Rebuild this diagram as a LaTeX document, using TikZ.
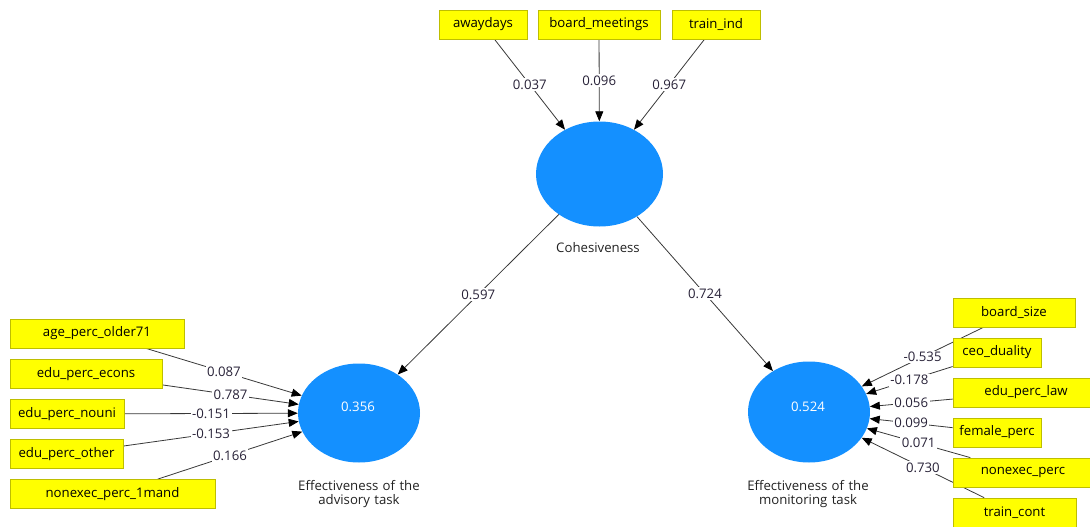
\documentclass[tikz,border=0pt]{standalone}
\usepackage{fontspec}
\setmainfont{Open Sans}
\usetikzlibrary{shapes.geometric,arrows.meta}
\pgfdeclarelayer{edges}
\pgfsetlayers{edges,main}

\definecolor{latent}{RGB}{20,144,255}
\definecolor{boxyellow}{RGB}{255,255,0}
\definecolor{boxline}{RGB}{190,190,0}
\definecolor{edgecol}{RGB}{56,56,56}
\definecolor{labelcol}{RGB}{40,34,56}
\definecolor{namecol}{RGB}{34,34,34}

\begin{document}
\begin{tikzpicture}[x=1pt,y=-1pt,
  basefont/.style={font=\fontsize{13.2}{15}\selectfont},
  ind/.style={basefont, draw=boxline, fill=boxyellow, text=black,
    minimum height=29pt, inner sep=0pt, line width=0.8pt},
  lat/.style={ellipse, fill=latent, draw=none, inner sep=0pt},
  latval/.style={basefont, text=white},
  latname/.style={basefont, text=namecol, align=center},
  path/.style={draw=edgecol, line width=0.8pt,
    -{Triangle[length=10pt,width=8pt,black]}},
  lbl/.style={basefont, fill=white, text=labelcol, inner sep=1.5pt}]

\useasboundingbox (0,0) rectangle (1090,527);
\clip (0,0) rectangle (1090,527);

% latent constructs
\node[lat, minimum width=127pt, minimum height=105pt] (coh) at (599.5,174) {};
\node[lat, minimum width=122pt, minimum height=99pt] (adv) at (359,413) {};
\node[lat, minimum width=122pt, minimum height=101pt] (mon) at (809,412) {};

\node[latval] (advval) at (358,407) {0.356};
\node[latval] (monval) at (808,407) {0.524};

\node[latname] (cohname) at (598,248) {Cohesiveness};
\node[latname, text width=160pt] (advname) at (359,494) {Effectiveness of the\\[-1pt]advisory task};
\node[latname, text width=160pt] (monname) at (808,494) {Effectiveness of the\\[-1pt]monitoring task};

% indicators of cohesiveness
\node[ind, minimum width=88pt]  (away)  at (483,24.5)  {awaydays};
\node[ind, minimum width=122pt] (meet)  at (599,24.5)  {board\_meetings};
\node[ind, minimum width=88pt]  (train) at (716,24.5)  {train\_ind};

% indicators of the advisory task
\node[ind, minimum width=174pt] (age)   at (97,333.5)   {age\_perc\_older71};
\node[ind, minimum width=152pt] (econs) at (86,374)     {edu\_perc\_econs};
\node[ind, minimum width=114pt] (nouni) at (67,414)     {edu\_perc\_nouni};
\node[ind, minimum width=113pt] (other) at (66.5,454)   {edu\_perc\_other};
\node[ind, minimum width=205pt] (mand)  at (112.5,494)  {nonexec\_perc\_1mand};

% indicators of the monitoring task
\node[ind, minimum width=122pt] (bsize)  at (1014,312.5)  {board\_size};
\node[ind, minimum width=88pt]  (ceo)    at (997,352.5)   {ceo\_duality};
\node[ind, minimum width=146pt] (law)    at (1026,392.5)  {edu\_perc\_law};
\node[ind, minimum width=88pt]  (female) at (997,432.5)   {female\_perc};
\node[ind, minimum width=140pt] (nexec)  at (1023,472.5)  {nonexec\_perc};
\node[ind, minimum width=123pt] (tcont)  at (1014.5,512.5) {train\_cont};

\begin{pgfonlayer}{edges}
  \draw[path] (away)  -- node[lbl] {0.037} (coh);
  \draw[path] (meet)  -- node[lbl] {0.096} (coh);
  \draw[path] (train) -- node[lbl] {0.967} (coh);

  \draw[path] (coh) -- node[lbl] {0.597} (adv);
  \draw[path] (coh) -- node[lbl] {0.724} (mon);

  \draw[path] (age)   -- node[lbl] {0.087} (adv);
  \draw[path] (econs) -- node[lbl] {0.787} (adv);
  \draw[path] (nouni) -- node[lbl] {-0.151} (adv);
  \draw[path] (other) -- node[lbl] {-0.153} (adv);
  \draw[path] (mand)  -- node[lbl] {0.166} (adv);

  \draw[path] (bsize)  -- node[lbl] {-0.535} (mon);
  \draw[path] (ceo)    -- node[lbl] {-0.178} (mon);
  \draw[path] (law)    -- node[lbl] {0.056} (mon);
  \draw[path] (female) -- node[lbl] {0.099} (mon);
  \draw[path] (nexec)  -- node[lbl] {0.071} (mon);
  \draw[path] (tcont)  -- node[lbl] {0.730} (mon);
\end{pgfonlayer}
\end{tikzpicture}
\end{document}
